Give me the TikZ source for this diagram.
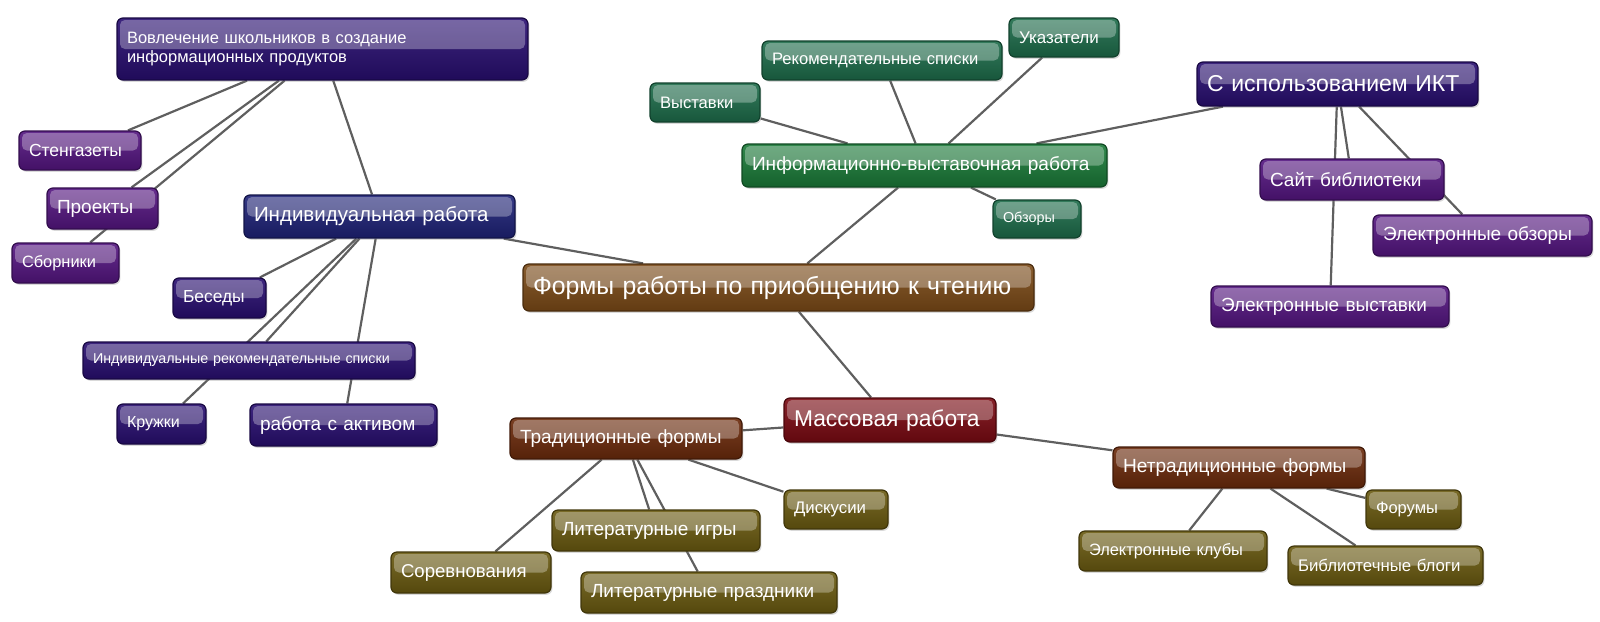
\documentclass[tikz,border=0pt]{standalone}
\usepackage{fontspec}
\setmainfont{Liberation Sans}
\usetikzlibrary{shadows,backgrounds}

\definecolor{mmbrown}{HTML}{7B4A17}
\definecolor{mmnavy}{HTML}{1E2277}
\definecolor{mmindigo}{HTML}{280E70}
\definecolor{mmplum}{HTML}{541580}
\definecolor{mmgreen}{HTML}{1A7A38}
\definecolor{mmteal}{HTML}{1D6C4A}
\definecolor{mmred}{HTML}{7A0A12}
\definecolor{mmrust}{HTML}{6B2A0B}
\definecolor{mmolive}{HTML}{6A5A10}
\definecolor{mmlink}{HTML}{5F5F5F}

\newcommand\fsz[1]{\fontsize{#1}{1.2\dimexpr#1pt\relax}\selectfont}

\tikzset{
  gloss/.style={path picture={
    \fill[white, opacity=0.3, rounded corners=2.5pt]
      ([shift={(1.5pt,-1pt)}]path picture bounding box.north west) rectangle
      ([shift={(-1.5pt,0pt)}]path picture bounding box.east);}},
  topic/.style={draw=#1!60!black, line width=0.6pt, rounded corners=3pt,
    top color=#1!90!white, bottom color=#1!80!black, text=white,
    align=left, inner xsep=5pt, inner ysep=0pt, gloss,
    drop shadow={opacity=0.3, shadow xshift=0.7pt, shadow yshift=-0.9pt}},
  link/.style={draw=mmlink, line width=1.1pt}
}

\begin{document}
\begin{tikzpicture}[x=0.5pt, y=-0.5pt]
  \useasboundingbox (0,0) rectangle (1600,621);

  % centre
  \node[topic=mmbrown, text width=245.5pt, minimum height=23.5pt, font=\fsz{12.4}] (root) at (778.5,287.5) {Формы работы по приобщению к чтению};

  % individual work
  \node[topic=mmnavy, text width=125.5pt, minimum height=21.5pt, font=\fsz{10.25}] (ind) at (379.5,216.5) {Индивидуальная работа};
  \node[topic=mmindigo, text width=195.5pt, minimum height=31pt, font=\fsz{8.25}] (vovl) at (322.5,49) {Вовлечение школьников в создание\\информационных продуктов};
  \node[topic=mmplum, text width=51pt, minimum height=19.5pt, font=\fsz{8.75}] (sten) at (80,150.5) {Стенгазеты};
  \node[topic=mmplum, text width=45.5pt, minimum height=20.5pt, font=\fsz{9.5}] (proj) at (102.5,208.5) {Проекты};
  \node[topic=mmplum, text width=43.5pt, minimum height=20pt, font=\fsz{8.2}] (sbor) at (65.5,263) {Сборники};
  \node[topic=mmindigo, text width=36.5pt, minimum height=20pt, font=\fsz{8.7}] (besed) at (219.5,298) {Беседы};
  \node[topic=mmindigo, text width=156pt, minimum height=18.5pt, font=\fsz{7.15}] (indrek) at (249,360.5) {Индивидуальные рекомендательные списки};
  \node[topic=mmindigo, text width=34.5pt, minimum height=20pt, font=\fsz{8}] (kruzh) at (161.5,424) {Кружки};
  \node[topic=mmindigo, text width=83.5pt, minimum height=21pt, font=\fsz{9.5}] (aktiv) at (343.5,425) {работа с активом};

  % information and exhibition work
  \node[topic=mmgreen, text width=172.5pt, minimum height=21.5pt, font=\fsz{9.55}] (infv) at (924.5,165.5) {Информационно-выставочная работа};
  \node[topic=mmteal, text width=45pt, minimum height=19.5pt, font=\fsz{8.3}] (vyst) at (705,102.5) {Выставки};
  \node[topic=mmteal, text width=110pt, minimum height=19.5pt, font=\fsz{8.3}] (reksp) at (882,60.5) {Рекомендательные списки};
  \node[topic=mmteal, text width=45pt, minimum height=19.5pt, font=\fsz{8.5}] (ukaz) at (1064,37.5) {Указатели};
  \node[topic=mmteal, text width=34pt, minimum height=19pt, font=\fsz{7.2}] (obz) at (1037,219) {Обзоры};
  \node[topic=mmindigo, text width=130.5pt, minimum height=22pt, font=\fsz{11.5}] (ikt) at (1337.5,84) {С использованием ИКТ};
  \node[topic=mmplum, text width=82pt, minimum height=20.5pt, font=\fsz{9.5}] (sajt) at (1352,179.5) {Сайт библиотеки};
  \node[topic=mmplum, text width=99.5pt, minimum height=20.5pt, font=\fsz{9.5}] (elobz) at (1482.5,235.5) {Электронные обзоры};
  \node[topic=mmplum, text width=109pt, minimum height=20.5pt, font=\fsz{9.5}] (elvyst) at (1330,306.5) {Электронные выставки};

  % mass work
  \node[topic=mmred, text width=96pt, minimum height=22pt, font=\fsz{11.4}] (mass) at (890,420) {Массовая работа};
  \node[topic=mmrust, text width=106pt, minimum height=20.5pt, font=\fsz{9.55}] (trad) at (626,438.5) {Традиционные формы};
  \node[topic=mmolive, text width=42pt, minimum height=19.5pt, font=\fsz{8.4}] (disk) at (836,509.5) {Дискусии};
  \node[topic=mmolive, text width=94pt, minimum height=20.5pt, font=\fsz{9.5}] (litigr) at (656,530.5) {Литературные игры};
  \node[topic=mmolive, text width=70pt, minimum height=20.5pt, font=\fsz{9.3}] (sorev) at (471,572.5) {Соревнования};
  \node[topic=mmolive, text width=118pt, minimum height=20.5pt, font=\fsz{9.5}] (litpr) at (709,592.5) {Литературные праздники};
  \node[topic=mmrust, text width=116pt, minimum height=20.5pt, font=\fsz{9.55}] (netrad) at (1239,467.5) {Нетрадиционные формы};
  \node[topic=mmolive, text width=37.5pt, minimum height=19.5pt, font=\fsz{8.25}] (forum) at (1413.5,509.5) {Форумы};
  \node[topic=mmolive, text width=84pt, minimum height=20pt, font=\fsz{8.2}] (elklub) at (1173,551) {Электронные клубы};
  \node[topic=mmolive, text width=87.5pt, minimum height=19.5pt, font=\fsz{8.4}] (bibl) at (1385.5,565.5) {Библиотечные блоги};

  % links behind the boxes
  \begin{scope}[on background layer]
    \draw[link] (root) -- (ind);
    \draw[link] (root) -- (infv);
    \draw[link] (root) -- (mass);
    \draw[link] (ind) -- (vovl);
    \draw[link] (ind) -- (besed);
    \draw[link] (ind) -- (indrek);
    \draw[link] (ind) -- (kruzh);
    \draw[link] (ind) -- (aktiv);
    \draw[link] (vovl) -- (sten);
    \draw[link] (vovl) -- (proj);
    \draw[link] (vovl) -- (sbor);
    \draw[link] (infv) -- (vyst);
    \draw[link] (infv) -- (reksp);
    \draw[link] (infv) -- (ukaz);
    \draw[link] (infv) -- (obz);
    \draw[link] (infv) -- (ikt);
    \draw[link] (ikt) -- (sajt);
    \draw[link] (ikt) -- (elobz);
    \draw[link] (ikt) -- (elvyst);
    \draw[link] (mass) -- (trad);
    \draw[link] (mass) -- (netrad);
    \draw[link] (trad) -- (sorev);
    \draw[link] (trad) -- (litigr);
    \draw[link] (trad) -- (litpr);
    \draw[link] (trad) -- (disk);
    \draw[link] (netrad) -- (elklub);
    \draw[link] (netrad) -- (bibl);
    \draw[link] (netrad) -- (forum);
  \end{scope}
\end{tikzpicture}
\end{document}
